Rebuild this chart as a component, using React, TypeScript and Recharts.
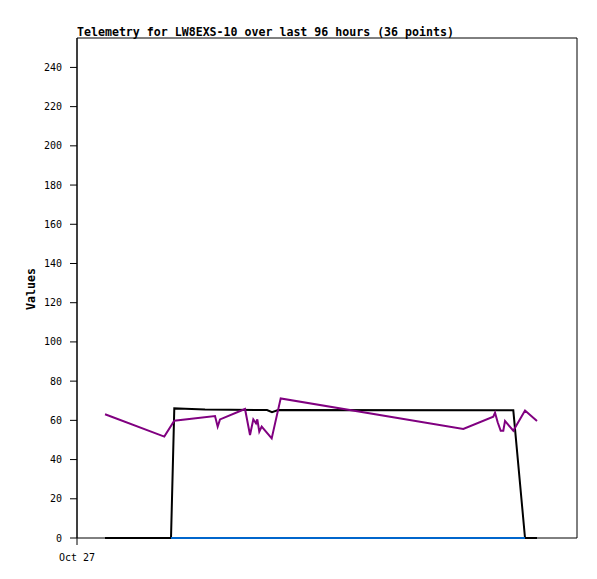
import React from 'react';
import { LineChart, Line, XAxis, YAxis, ReferenceArea } from 'recharts';

const purpleHours = [5.38, 16.76, 18.68, 26.5, 27.01, 27.46, 32.26, 33.22, 33.85, 34.37, 34.62, 35.0, 35.46, 37.38, 39.11, 74.17, 79.93, 80.26, 80.77, 81.35, 81.85, 82.18, 83.77, 86.02, 88.32];
const purpleValues = [63.1, 51.7, 59.8, 62.2, 56.8, 60.5, 65.8, 52.5, 60.5, 58.5, 60.5, 54.2, 56.8, 50.8, 71.2, 55.6, 61.9, 63.9, 59.0, 54.7, 54.7, 59.7, 54.7, 65.0, 59.7];

const blackHours = [5.38, 18.05, 18.68, 20.74, 24.58, 36.48, 37.44, 38.6, 83.77, 86.02, 88.32];
const blackValues = [0, 0, 66.1, 65.9, 65.5, 65.3, 64.2, 65.3, 65.1, 0, 0];

const blueHours = [18.05, 86.02];
const blueValues = [0, 0];

const yTicks = [0, 20, 40, 60, 80, 100, 120, 140, 160, 180, 200, 220, 240];
const xTicks = [0];
const xTickLabels = ['Oct 27'];

const purpleData = purpleHours.map((h, i) => ({ t: h, v: purpleValues[i] }));
const blackData = blackHours.map((h, i) => ({ t: h, v: blackValues[i] }));
const blueData = blueHours.map((h, i) => ({ t: h, v: blueValues[i] }));

const tickFont = { fontFamily: '"DejaVu Sans Mono", monospace', fontSize: 10, fill: '#000' };

export default function App() {
  return (
    <div style={{ position: 'absolute', left: 0, top: 0, width: 597, height: 579, background: '#fff' }}>
      <div style={{ position: 'absolute', left: 77, top: 25, fontFamily: '"DejaVu Sans Mono", monospace', fontWeight: 'bold', fontSize: 11.6, whiteSpace: 'nowrap', color: '#000' }}>
        Telemetry for LW8EXS-10 over last 96 hours (36 points)
      </div>
      <div style={{ position: 'absolute', left: 31, top: 289, transform: 'translate(-50%, -50%) rotate(-90deg)', fontFamily: '"DejaVu Sans Mono", monospace', fontWeight: 'bold', fontSize: 11.6, whiteSpace: 'nowrap', color: '#000' }}>
        Values
      </div>
      <LineChart width={597} height={579} margin={{ top: 38, right: 20, bottom: 11, left: 17 }}>
        <ReferenceArea x1={0} x2={96} y1={0} y2={255} fill="none" stroke="#000" strokeWidth={1} ifOverflow="visible" />
        <XAxis
          type="number"
          dataKey="t"
          domain={[0, 96]}
          ticks={xTicks}
          tickFormatter={(v: number) => xTickLabels[xTicks.indexOf(v)] ?? ''}
          height={30}
          tickSize={7}
          tickMargin={9}
          axisLine={false}
          stroke="#000"
          tick={tickFont}
        />
        <YAxis
          type="number"
          dataKey="v"
          domain={[0, 255]}
          ticks={yTicks}
          width={60}
          tickSize={7}
          tickMargin={8}
          stroke="#000"
          tick={tickFont}
        />
        <Line data={blackData} dataKey="v" stroke="#000" strokeWidth={2} dot={false} isAnimationActive={false} />
        <Line data={blueData} dataKey="v" stroke="#0066cc" strokeWidth={2} dot={false} isAnimationActive={false} />
        <Line data={purpleData} dataKey="v" stroke="#800080" strokeWidth={2} dot={false} isAnimationActive={false} />
      </LineChart>
    </div>
  );
}
